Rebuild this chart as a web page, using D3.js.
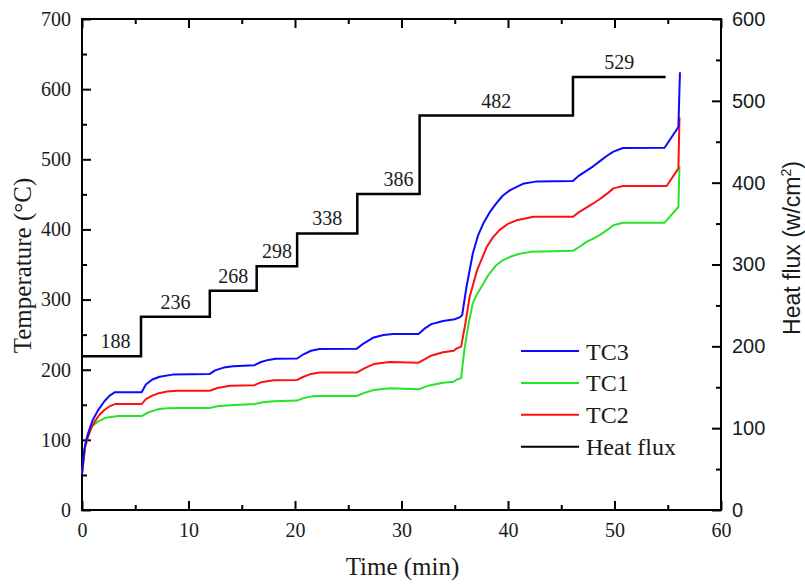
<!DOCTYPE html>
<html>
<head>
<meta charset="utf-8">
<script src="https://cdn.jsdelivr.net/npm/d3@7/dist/d3.min.js"></script>
<style>
  html, body { margin: 0; padding: 0; background: #fff; }
  svg { display: block; }
</style>
</head>
<body>
<svg id="chart" width="805" height="586"></svg>
<script>
// Thermocouple readings [time (min), temperature (°C)]
const tc3 = [[0,52],[0.2,85],[0.4,100],[0.7,115],[1.0,128],[1.5,142],[2.1,155],[2.6,163],[3.1,168],[5.6,168],[6.0,179],[6.6,186],[7.3,190],[8.5,193],[12.0,194],[12.5,199],[13.3,203],[14.2,205],[16.2,206.5],[16.8,211],[17.5,214],[18.2,215.5],[20.2,216],[20.8,222],[21.5,227],[22.3,229.5],[25.8,230],[26.5,238],[27.4,246],[28.3,249.5],[29.2,251],[31.6,251],[32.2,259],[32.8,265],[33.9,269.5],[35.0,272],[35.5,275],[35.7,278],[36.1,318],[36.7,366],[37.2,392],[37.7,409],[38.3,425],[38.9,437],[39.5,448],[40.2,456],[41.4,465],[42.7,468.5],[46.1,469],[46.6,476],[47.1,481],[48.0,490],[48.6,497],[49.3,505],[49.9,511],[50.8,516],[54.7,516.5],[56.0,546],[56.1,600],[56.15,624]];
const tc1 = [[0,52],[0.3,92],[0.56,109],[1.0,120],[1.5,126],[2.0,130],[2.4,132],[3.4,134],[5.6,134],[6.2,139],[7.1,143.5],[8.0,145],[9.2,145.5],[12.0,145.5],[12.7,148],[13.9,149.5],[16.2,151],[17.0,153.5],[18.0,155],[20.2,156],[20.8,159.5],[21.6,162],[22.3,162.5],[25.8,162.5],[26.5,167],[27.4,171],[28.9,173.5],[31.6,172],[32.2,175.5],[32.7,178],[33.9,181.5],[34.9,183],[35.2,186],[35.6,188],[35.9,228],[36.3,266],[36.7,295],[37.1,308],[37.5,318],[38.2,336],[38.9,349],[39.5,356],[40.2,361],[41.0,365],[42.1,368],[46.1,369.5],[46.8,376],[47.4,382.6],[48.0,387],[48.6,392],[49.3,399],[49.9,406],[50.8,409.6],[54.7,409.6],[56.0,432],[56.1,490]];
const tc2 = [[0,52],[0.3,90],[0.56,104],[0.9,118],[1.2,126],[1.6,135],[2.1,142.5],[2.6,148],[3.1,151],[5.6,151],[6.0,158],[6.6,163],[7.1,166],[8.0,169],[8.9,170],[12.0,170],[12.7,174],[13.9,177],[16.2,178],[16.8,182],[18.0,185],[20.2,185.5],[20.8,190],[21.5,194],[22.3,196],[25.8,196],[26.5,202],[27.4,208],[28.9,211],[31.6,210],[32.2,215],[32.7,219.5],[33.9,225],[34.9,227],[35.2,230.5],[35.6,233],[36.0,266],[36.4,304],[37.1,342],[37.6,360],[38.0,375],[38.6,389],[39.2,399],[40.0,408],[40.8,413],[42.4,418],[46.1,418],[46.7,425],[47.4,431.5],[48.0,437],[48.6,443],[49.3,451],[49.9,458.5],[50.8,462],[54.9,462],[56.0,487],[56.1,560]];

// Applied heat flux steps (w/cm²): start time of each step and its level
const fluxStart = [0, 5.54, 12.0, 16.4, 20.2, 25.85, 31.7, 46.1];
const fluxLevel = [188, 236, 268, 298, 338, 386, 482, 529];
const fluxEnd = 54.8;

// Axis ticks
const timeTicks = [0, 10, 20, 30, 40, 50, 60];
const tempTicks = [0, 100, 200, 300, 400, 500, 600, 700];
const fluxTicks = [0, 100, 200, 300, 400, 500, 600];

const seriesNames = ["TC3", "TC1", "TC2", "Heat flux"];
const seriesColors = { TC3: "#0a0aff", TC1: "#28e428", TC2: "#ff1010", "Heat flux": "#000000" };

const svg = d3.select("#chart");
const plotL = 82, plotR = 721, plotT = 19, plotB = 510;

const x = d3.scaleLinear().domain([0, 60]).range([plotL, plotR]);
const y = d3.scaleLinear().domain([0, 700]).range([plotB, plotT]);
const yR = d3.scaleLinear().domain([0, 600]).range([plotB, plotT]);

const serif = "'Liberation Serif', 'Times New Roman', serif";
const sans = "'Liberation Sans', Arial, sans-serif";

function styleAxis(g, font) {
  g.select(".domain").remove();
  g.selectAll(".tick line").attr("stroke", "#000").attr("stroke-width", 2);
  g.selectAll("text").attr("font-family", font).attr("font-size", 20).attr("fill", "#1a1a1a");
}
const mid = (ticks, step) => d3.range(ticks[0] + step / 2, ticks[ticks.length - 1], step);

// Bottom axis
svg.append("g").attr("transform", `translate(0,${plotB})`)
  .call(d3.axisBottom(x).tickValues(timeTicks).tickSize(-9).tickPadding(10).tickFormat(d3.format("d")))
  .call(g => styleAxis(g, serif))
  .call(g => g.selectAll("text").attr("dy", "0.71em").attr("y", 13));
svg.append("g").attr("transform", `translate(0,${plotB})`)
  .call(d3.axisBottom(x).tickValues(mid(timeTicks, 10)).tickSize(-5).tickFormat(""))
  .call(g => styleAxis(g, serif));
// Top axis (ticks only)
svg.append("g").attr("transform", `translate(0,${plotT})`)
  .call(d3.axisTop(x).tickValues(timeTicks).tickSize(-9).tickFormat(""))
  .call(g => styleAxis(g, serif));
svg.append("g").attr("transform", `translate(0,${plotT})`)
  .call(d3.axisTop(x).tickValues(mid(timeTicks, 10)).tickSize(-5).tickFormat(""))
  .call(g => styleAxis(g, serif));
// Left axis: temperature
svg.append("g").attr("transform", `translate(${plotL},0)`)
  .call(d3.axisLeft(y).tickValues(tempTicks).tickSize(-9).tickPadding(11))
  .call(g => styleAxis(g, serif));
svg.append("g").attr("transform", `translate(${plotL},0)`)
  .call(d3.axisLeft(y).tickValues(mid(tempTicks, 100)).tickSize(-5).tickFormat(""))
  .call(g => styleAxis(g, serif));
// Right axis: heat flux
svg.append("g").attr("transform", `translate(${plotR},0)`)
  .call(d3.axisRight(yR).tickValues(fluxTicks).tickSize(-9).tickPadding(11))
  .call(g => styleAxis(g, sans));
svg.append("g").attr("transform", `translate(${plotR},0)`)
  .call(d3.axisRight(yR).tickValues(mid(fluxTicks, 100)).tickSize(-5).tickFormat(""))
  .call(g => styleAxis(g, sans));

// Frame
svg.append("rect")
  .attr("x", plotL).attr("y", plotT).attr("width", plotR - plotL).attr("height", plotB - plotT)
  .attr("fill", "none").attr("stroke", "#000").attr("stroke-width", 2);

// Heat flux staircase
const fluxPts = fluxStart.map((t, i) => [t, fluxLevel[i]]).concat([[fluxEnd, fluxLevel[fluxLevel.length - 1]]]);
svg.append("path")
  .datum(fluxPts)
  .attr("fill", "none").attr("stroke", seriesColors["Heat flux"]).attr("stroke-width", 2.5)
  .attr("d", d3.line().x(d => x(d[0])).y(d => yR(d[1])).curve(d3.curveStepAfter));

// Step value labels, centred over each step (the 386 label sits toward its step's right end)
const labelShift = { 188: 4, 386: 10 };
svg.append("g").selectAll("text")
  .data(fluxLevel)
  .join("text")
  .attr("x", (v, i) => {
    const t1 = i + 1 < fluxStart.length ? fluxStart[i + 1] : fluxEnd;
    return x((fluxStart[i] + t1) / 2) + (labelShift[v] || 0);
  })
  .attr("y", v => yR(v) - 8)
  .attr("text-anchor", "middle")
  .attr("font-family", serif).attr("font-size", 20).attr("fill", "#1a1a1a")
  .text(v => v);

// Temperature curves
const line = d3.line().x(d => x(d[0])).y(d => y(d[1]));
[["TC1", tc1], ["TC2", tc2], ["TC3", tc3]].forEach(([name, data]) => {
  svg.append("path")
    .datum(data)
    .attr("fill", "none").attr("stroke", seriesColors[name]).attr("stroke-width", 2)
    .attr("stroke-linejoin", "round")
    .attr("d", line);
});

// Legend
const legend = svg.append("g").attr("transform", "translate(521,351)");
const rows = legend.selectAll("g").data(seriesNames).join("g")
  .attr("transform", (d, i) => `translate(0,${i * 31.9})`);
rows.append("line").attr("x1", 0).attr("x2", 58)
  .attr("stroke", d => seriesColors[d]).attr("stroke-width", 2);
rows.append("text").attr("x", 65).attr("y", 8.5)
  .attr("font-family", serif).attr("font-size", 24).attr("fill", "#1a1a1a")
  .text(d => d);

// Axis titles
svg.append("text")
  .attr("x", (plotL + plotR) / 2 + 1).attr("y", 575)
  .attr("text-anchor", "middle")
  .attr("font-family", serif).attr("font-size", 25).attr("fill", "#1a1a1a")
  .text("Time (min)");
svg.append("text")
  .attr("transform", `translate(31,${(plotT + plotB) / 2 + 1}) rotate(-90)`)
  .attr("text-anchor", "middle")
  .attr("font-family", serif).attr("font-size", 25).attr("fill", "#1a1a1a")
  .text("Temperature (°C)");
const rt = svg.append("text")
  .attr("transform", "translate(800,248) rotate(-90)")
  .attr("text-anchor", "middle")
  .attr("font-family", sans).attr("font-size", 23).attr("fill", "#1a1a1a");
rt.append("tspan").text("Heat flux (w/cm");
rt.append("tspan").attr("font-size", 14).attr("dy", -9).text("2");
rt.append("tspan").attr("dy", 9).text(")");
</script>
</body>
</html>
